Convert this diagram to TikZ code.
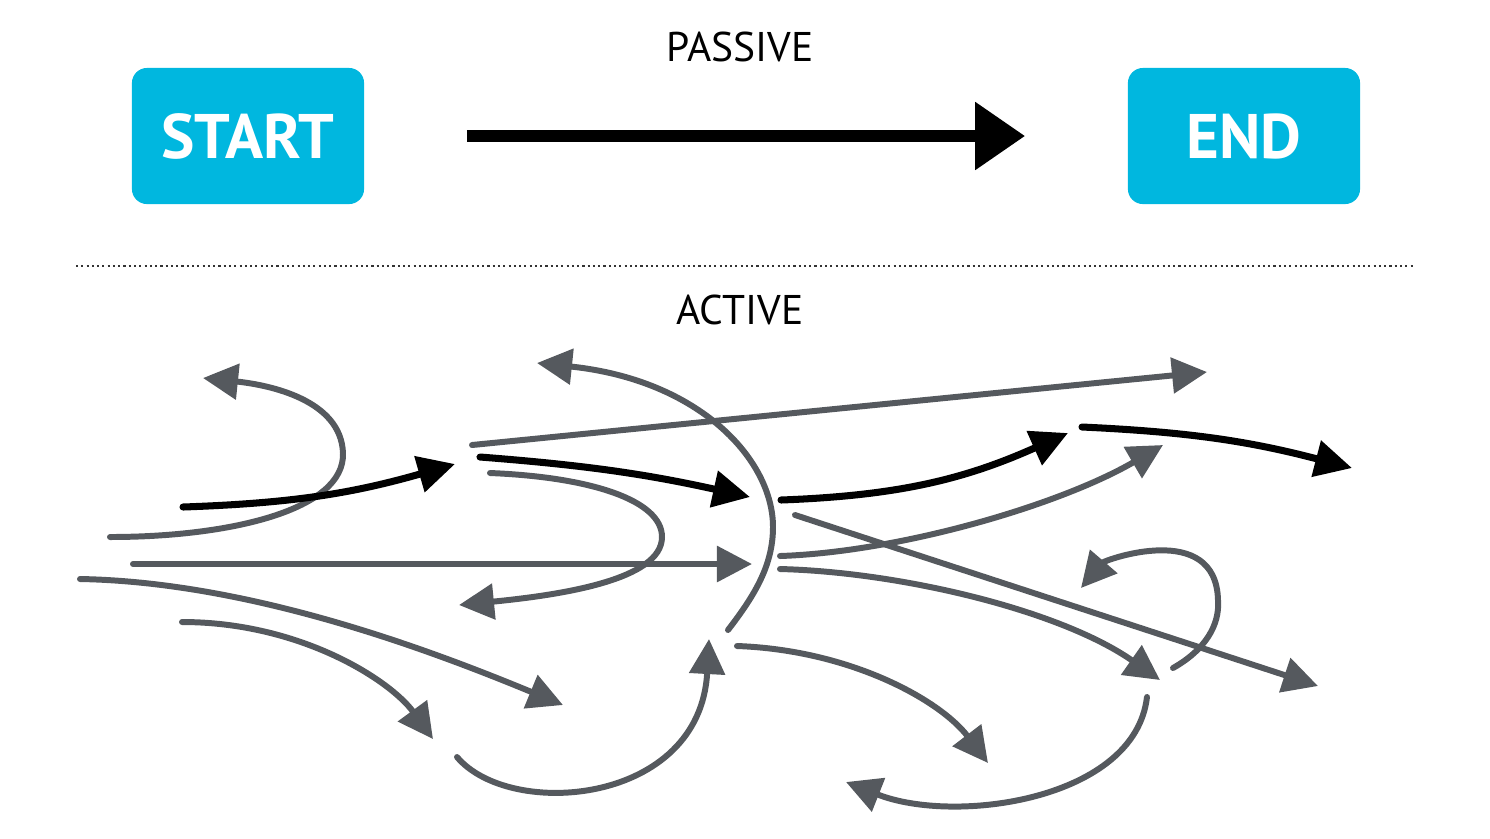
\documentclass[tikz,border=0pt]{standalone}
\usepackage{fontspec}
\setmainfont{PT Sans}
\usetikzlibrary{arrows.meta,positioning}
\definecolor{boxblue}{HTML}{00B7DF}
\definecolor{inkgray}{HTML}{55595E}
\tikzset{
  phasebox/.style={rounded corners=0.15cm, fill=boxblue, text=white, inner sep=0pt,
    minimum width=2.32cm, minimum height=1.36cm, font=\fontsize{17.9}{20}\selectfont\bfseries},
  modelabel/.style={inner sep=0pt, font=\fontsize{11.8}{14}\selectfont},
  passivearr/.style={-{Triangle[length=5mm,width=6.5mm]}, line width=3.4pt, draw=black},
  grayarr/.style={-{Triangle[length=3.5mm,width=3.5mm]}, line width=1.7pt, draw=inkgray, line cap=round},
  blackarr/.style={-{Triangle[length=3.7mm,width=3.6mm]}, line width=2pt, draw=black, line cap=round},
  divider/.style={line width=0.6pt, dash pattern=on 0.6pt off 0.9pt, draw=black!80}
}
\begin{document}
\begin{tikzpicture}[x=0.01cm, y=-0.01cm]
  \useasboundingbox (0,0) rectangle (1490,838);
  % passive
  \node[phasebox] (start) at (248,136) {START};
  \node[phasebox, right=7.62cm of start] (end) {END};
  \node[modelabel] (passive) at (740,47) {PASSIVE};
  \draw[passivearr, shorten <=1.02cm, shorten >=1.02cm] (start) -- (end);
  \coordinate (divL) at (76,266);
  \coordinate (divR) at (1413,266);
  \draw[divider] (divL) -- (divR);
  % active
  \node[modelabel] (active) at (740,310) {ACTIVE};
  \coordinate (g1s) at (110,537);  \coordinate (g1m) at (343,453);  \coordinate (g1e) at (203,378);
  \coordinate (b1s) at (183,507);  \coordinate (b1e) at (455,464);
  \coordinate (g2s) at (133,564);  \coordinate (g2e) at (752,564);
  \coordinate (g3s) at (80,579);   \coordinate (g3e) at (563,705);
  \coordinate (g4s) at (182,622);  \coordinate (g4e) at (433,739);
  \coordinate (g5s) at (472,445);  \coordinate (g5e) at (1207,372);
  \coordinate (b2s) at (480,457);  \coordinate (b2e) at (750,497);
  \coordinate (g6s) at (490,473);  \coordinate (g6m) at (662,537);  \coordinate (g6e) at (459,605);
  \coordinate (g7s) at (728,630);  \coordinate (g7m) at (773,527);  \coordinate (g7e) at (537,363);
  \coordinate (g8s) at (457,757);  \coordinate (g8e) at (709,639);
  \coordinate (g9s) at (737,646);  \coordinate (g9e) at (988,763);
  \coordinate (b3s) at (781,500);  \coordinate (b3e) at (1068,433);
  \coordinate (b4s) at (1082,427); \coordinate (b4e) at (1352,468);
  \coordinate (g10s) at (780,556); \coordinate (g10e) at (1163,445);
  \coordinate (g11s) at (795,515); \coordinate (g11e) at (1318,686);
  \coordinate (g12s) at (780,569); \coordinate (g12e) at (1160,680);
  \coordinate (g13s) at (1173,668); \coordinate (g13m) at (1218,600); \coordinate (g13e) at (1081,588);
  \coordinate (g14s) at (1147,697); \coordinate (g14e) at (846,782);
  \draw[grayarr] (g1s) .. controls (230,537) and (345,510) .. (g1m)
    .. controls (341,400) and (270,385) .. (g1e);
  \draw[grayarr] (g2s) -- (g2e);
  \draw[grayarr] (g3s) .. controls (250,582) and (430,650) .. (g3e);
  \draw[grayarr] (g4s) .. controls (300,622) and (390,680) .. (g4e);
  \draw[grayarr] (g5s) -- (g5e);
  \draw[grayarr] (g6s) .. controls (590,477) and (662,500) .. (g6m)
    .. controls (662,580) and (560,595) .. (g6e);
  \draw[grayarr] (g7s) .. controls (755,595) and (773,565) .. (g7m)
    .. controls (773,460) and (700,380) .. (g7e);
  \draw[grayarr] (g8s) .. controls (510,820) and (700,805) .. (g8e);
  \draw[grayarr] (g9s) .. controls (850,650) and (940,700) .. (g9e);
  \draw[grayarr] (g10s) .. controls (900,552) and (1060,505) .. (g10e);
  \draw[grayarr] (g11s) -- (g11e);
  \draw[grayarr] (g12s) .. controls (900,572) and (1060,610) .. (g12e);
  \draw[grayarr] (g13s) .. controls (1205,650) and (1220,625) .. (g13m)
    .. controls (1216,520) and (1105,560) .. (g13e);
  \draw[grayarr] (g14s) .. controls (1135,800) and (955,825) .. (g14e);
  \draw[blackarr] (b1s) to[bend right=7] (b1e);
  \draw[blackarr] (b2s) to[bend left=4] (b2e);
  \draw[blackarr] (b3s) to[bend right=11] (b3e);
  \draw[blackarr] (b4s) to[bend left=6] (b4e);
\end{tikzpicture}
\end{document}
